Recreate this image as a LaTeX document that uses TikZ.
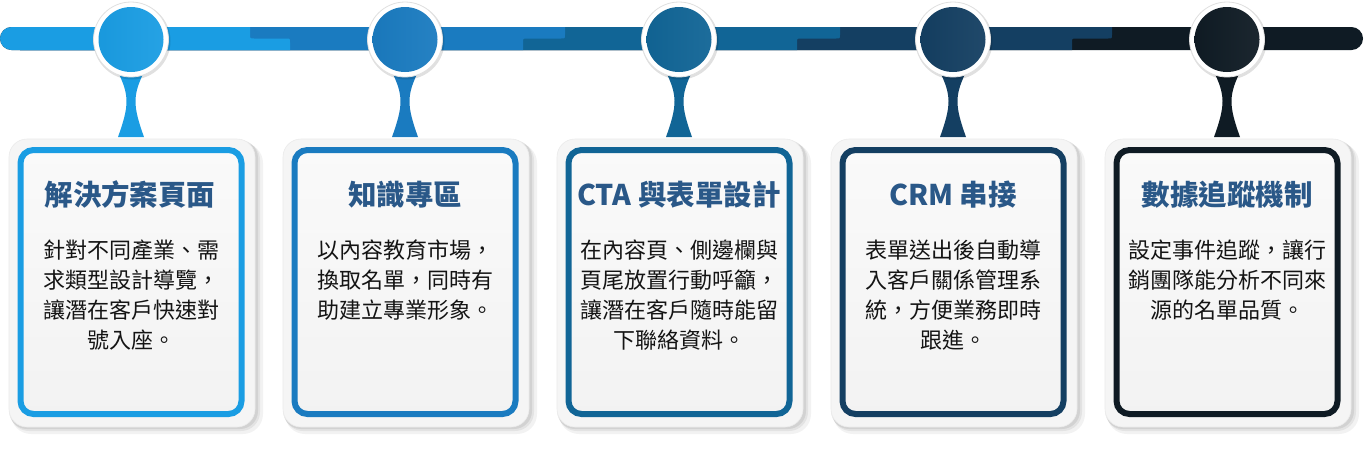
\documentclass[tikz,border=0pt]{standalone}
\usepackage{fontspec}
\setmainfont{Noto Sans CJK TC}
\definecolor{cA}{HTML}{1A9DE3}
\definecolor{cB}{HTML}{1A7BC0}
\definecolor{cC}{HTML}{116596}
\definecolor{cD}{HTML}{143F62}
\definecolor{cE}{HTML}{0F1B24}
\definecolor{ttl}{HTML}{2A5888}
\tikzset{
 ringnode/.style={circle, fill=white, draw=black!12, line width=0.8pt, minimum size=75pt, inner sep=0pt},
 dotnode/.style={circle, minimum size=65pt, inner sep=0pt},
 framenode/.style={rectangle, rounded corners=18pt, fill=black!4, draw=black!8, line width=0.6pt, minimum width=246pt, minimum height=288pt, inner sep=0pt},
 cardnode/.style={rectangle, rounded corners=13pt, line width=6pt, minimum width=221pt, minimum height=264pt, inner sep=0pt, top color=black!2, bottom color=black!5},
 titlenode/.style={font=\bfseries\fontsize{28.5}{33}\selectfont, text=ttl, inner sep=0pt},
 bodynode/.style={font=\fontsize{22}{30}\selectfont, text=black!92, align=center, inner sep=0pt, anchor=north},
}
\begin{document}
\begin{tikzpicture}[x=1pt,y=-1pt]
\useasboundingbox (0,0) rectangle (1366,448);
\fill[white] (0,0) rectangle (1366,448);
% bar
\fill[cE, rounded corners=11.5pt] (0,27) rectangle (1363,50);
\fill[cD] (20,27) -- (1112,27) -- (1112,34.5) .. controls (1112,38.5) .. (1108,38.5) -- (1076,38.5) .. controls (1072,38.5) .. (1072,42.5) -- (1072,50) -- (20,50) -- cycle;
\fill[cC] (20,27) -- (840,27) -- (840,34.5) .. controls (840,38.5) .. (836,38.5) -- (801,38.5) .. controls (797,38.5) .. (797,42.5) -- (797,50) -- (20,50) -- cycle;
\fill[cB] (20,27) -- (565,27) -- (565,34.5) .. controls (565,38.5) .. (561,38.5) -- (527,38.5) .. controls (523,38.5) .. (523,42.5) -- (523,50) -- (20,50) -- cycle;
\fill[cA] (11.5,38.5) circle[radius=11.5pt];
\fill[cA] (11.5,27) -- (250,27) -- (250,34.5) .. controls (250,38.5) .. (254,38.5) -- (286,38.5) .. controls (290,38.5) .. (290,42.5) -- (290,50) -- (11.5,50) -- cycle;
% steps
\foreach \cx/\cc/\i in {131/cA/1,405/cB/2,679/cC/3,953/cD/4,1227/cE/5}{
  \fill[\cc] ({\cx-14},70) .. controls ({\cx-1.5},95) and ({\cx-1.5},105) .. ({\cx-13},137) -- ({\cx+13},137) .. controls ({\cx+1.5},105) and ({\cx+1.5},95) .. ({\cx+14},70) -- cycle;
  \fill[black, opacity=0.05, rounded corners=20pt] ({\cx-120},143) rectangle ({\cx+132},434);
  \fill[black, opacity=0.06, rounded corners=19pt] ({\cx-121},141) rectangle ({\cx+129},431);
  \fill[black, opacity=0.07, rounded corners=18pt] ({\cx-122},140) rectangle ({\cx+127},429);
  \node[framenode] (frame\i) at ({\cx+1},283) {};
  \node[cardnode, draw=\cc] (card\i) at (\cx,282) {};
  \fill[black, opacity=0.12] ({\cx+1},41) circle[radius=38.5pt];
  \node[ringnode] (ring\i) at (\cx,39.5) {};
  \node[dotnode, left color=\cc!97!black, right color=\cc!95!white] (dot\i) at (\cx,39.5) {};
}
% texts
\node[titlenode] (t1) at (130,195) {解決方案頁面};
\node[titlenode] (t2) at (405,195) {知識專區};
\node[titlenode] (t3) at (679,195) {CTA 與表單設計};
\node[titlenode] (t4) at (953,195) {CRM 串接};
\node[titlenode] (t5) at (1227,195) {數據追蹤機制};
\node[bodynode] (b1) at (131,240) {針對不同產業、需\\求類型設計導覽，\\讓潛在客戶快速對\\號入座。};
\node[bodynode] (b2) at (405,240) {以內容教育市場，\\換取名單，同時有\\助建立專業形象。};
\node[bodynode] (b3) at (679,240) {在內容頁、側邊欄與\\頁尾放置行動呼籲，\\讓潛在客戶隨時能留\\下聯絡資料。};
\node[bodynode] (b4) at (953,240) {表單送出後自動導\\入客戶關係管理系\\統，方便業務即時\\跟進。};
\node[bodynode] (b5) at (1227,240) {設定事件追蹤，讓行\\銷團隊能分析不同來\\源的名單品質。};
\end{tikzpicture}
\end{document}
